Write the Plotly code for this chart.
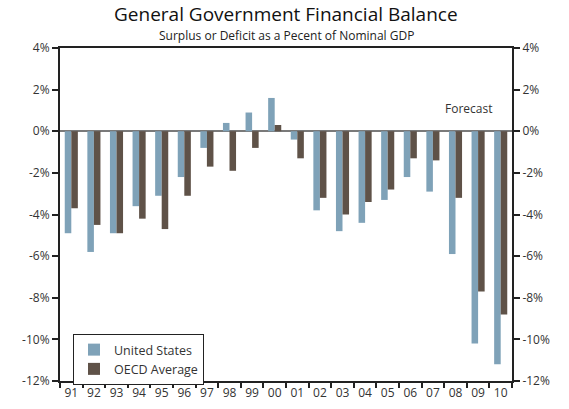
import plotly.graph_objects as go

years = ["91","92","93","94","95","96","97","98","99","00",
         "01","02","03","04","05","06","07","08","09","10"]
us = [-4.9,-5.8,-4.9,-3.6,-3.1,-2.2,-0.8,0.4,0.9,1.6,
      -0.4,-3.8,-4.8,-4.4,-3.3,-2.2,-2.9,-5.9,-10.2,-11.2]
oecd = [-3.7,-4.5,-4.9,-4.2,-4.7,-3.1,-1.7,-1.9,-0.8,0.3,
        -1.3,-3.2,-4.0,-3.4,-2.8,-1.3,-1.4,-3.2,-7.7,-8.8]
ytickvals = [4,2,0,-2,-4,-6,-8,-10,-12]
yticktext = ["4%","2%","0%","-2%","-4%","-6%","-8%","-10%","-12%"]

FONT = "Open Sans"
W, H = 569, 409
L, R, T, B = 60, 57, 48, 28
PH = H - T - B
PW = W - L - R

def py(y_px):  # reference pixel y -> paper coord
    return (H - B - y_px) / PH

def px(x_px):
    return (x_px - L) / PW

fig = go.Figure()
fig.add_bar(x=years, y=us, name="United States", marker_color="#7fa2b8", marker_line_width=0)
fig.add_bar(x=years, y=oecd, name="OECD Average", marker_color="#5f5248", marker_line_width=0)
fig.add_scatter(x=years, y=us, yaxis="y2", mode="none", showlegend=False, hoverinfo="skip")

axis_common = dict(range=[-12, 4], tickvals=ytickvals, ticktext=yticktext,
                   showgrid=False, ticks="outside", ticklen=6, tickwidth=1.5,
                   tickcolor="#222", showline=True, linecolor="#222", linewidth=2,
                   automargin=False,
                   tickfont=dict(size=12, color="#333", family=FONT))
fig.update_layout(
    width=W, height=H,
    margin=dict(l=L, r=R, t=T, b=B),
    paper_bgcolor="white", plot_bgcolor="white",
    barmode="group", bargap=0.42, bargroupgap=0,
    font=dict(family=FONT, color="#222"),
    xaxis=dict(type="category", showgrid=False, ticks="outside", tickson="boundaries",
               ticklen=5, tickcolor="#222", tickwidth=1.5, showline=True, mirror=True,
               linecolor="#222", linewidth=1.5, tickangle=0, automargin=False,
               tickfont=dict(size=12, color="#333", family=FONT)),
    yaxis=dict(**axis_common, side="left", zeroline=True, zerolinecolor="#7a7a7a", zerolinewidth=2),
    yaxis2=dict(**axis_common, side="right", overlaying="y", zeroline=False),
    legend=dict(x=px(73), y=py(334), xanchor="left", yanchor="top",
                bordercolor="#222", borderwidth=1, bgcolor="white",
                font=dict(size=12.5, color="#333", family=FONT),
                tracegroupgap=0, itemwidth=30),
    showlegend=True,
    annotations=[
        dict(text="General Government Financial Balance", x=0.5, xref="paper",
             xanchor="center", y=py(14), yref="paper", yanchor="middle", borderpad=0,
             showarrow=False, font=dict(size=19, color="#111", family=FONT)),
        dict(text="Surplus or Deficit as a Pecent of Nominal GDP", x=0.5, xref="paper",
             xanchor="center", y=py(35), yref="paper", yanchor="middle", borderpad=0,
             showarrow=False, font=dict(size=12, color="#222", family=FONT)),
        dict(text="Forecast", x=px(468), xref="paper", xanchor="center",
             y=py(108), yref="paper", yanchor="middle",
             showarrow=False, font=dict(size=12, color="#333", family=FONT)),
    ],
)
fig.write_html("out.html", config={"displayModeBar": False},
               post_script="document.body.style.margin='0';")
